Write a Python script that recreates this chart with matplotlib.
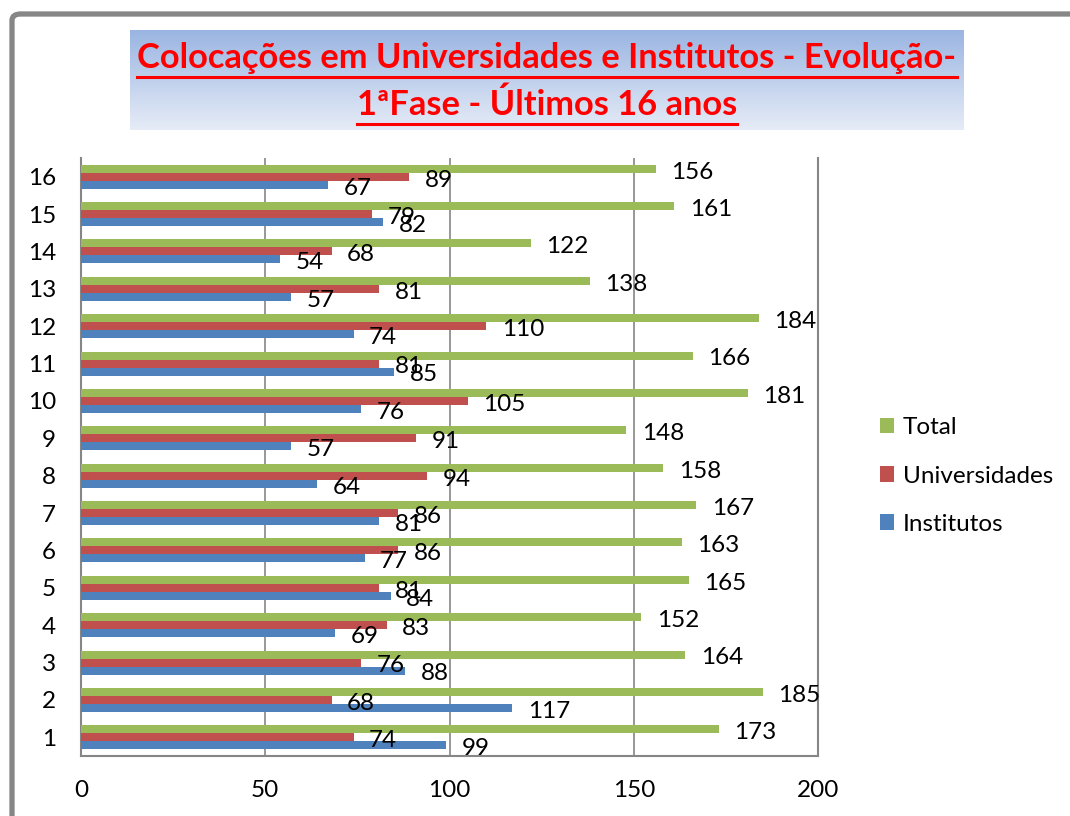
import matplotlib
matplotlib.use("Agg")
import matplotlib.pyplot as plt
import numpy as np
from matplotlib.patches import FancyBboxPatch
from matplotlib.lines import Line2D

categories = [str(i) for i in range(1, 17)]
institutos = [99, 117, 88, 69, 84, 77, 81, 64, 57, 76, 85, 74, 57, 54, 82, 67]
universidades = [74, 68, 76, 83, 81, 86, 86, 94, 91, 105, 81, 110, 81, 68, 79, 89]
total = [173, 185, 164, 152, 165, 163, 167, 158, 148, 181, 166, 184, 138, 122, 161, 156]
xticks = [0, 50, 100, 150, 200]
title_lines = ["Colocações em Universidades e Institutos - Evolução-", "1ªFase - Últimos 16 anos"]

W, H = 1070, 816
fig = plt.figure(figsize=(W / 100, H / 100), dpi=100)
FONT = "Lato"
plt.rcParams['font.family'] = [FONT, 'DejaVu Sans']

def fx(px):
    return px / W

def fy(py):
    return 1 - py / H

# outer frame (rounded gray border, cut off at right/bottom)
frame = FancyBboxPatch((fx(12), fy(900)), fx(1200), (900 - 14) / H,
                       boxstyle="round,pad=0,rounding_size=0.008",
                       transform=fig.transFigure, facecolor="none",
                       edgecolor="#868686", linewidth=3.8, zorder=10)
fig.patches.append(frame)

# title gradient box
tax = fig.add_axes([fx(130), fy(130), fx(964 - 130), (130 - 30) / H])
grad = np.linspace(0, 1, 256).reshape(-1, 1)
c_top = np.array([0x9A, 0xB5, 0xE2]) / 255
c_bot = np.array([0xE6, 0xEC, 0xF7]) / 255
img = c_top[None, None, :] * (1 - grad[:, :, None]) + c_bot[None, None, :] * grad[:, :, None]
tax.imshow(img, aspect="auto", extent=[0, 1, 0, 1])
tax.set_axis_off()

# main axes
ax = fig.add_axes([fx(81), fy(756), fx(818 - 81), (756 - 158) / H])
y = np.arange(1, 17)
h = 0.215
c_blue, c_red, c_green = "#4F81BD", "#C0504D", "#9BBB59"
ax.barh(y - h, institutos, height=h, color=c_blue, label="Institutos", zorder=3)
ax.barh(y, universidades, height=h, color=c_red, label="Universidades", zorder=3)
ax.barh(y + h, total, height=h, color=c_green, label="Total", zorder=3)

lab_fs = 17.5
off = 4.2
for vals, dy in ((institutos, -h), (universidades, 0), (total, h)):
    for yi, v in zip(y, vals):
        ax.text(v + off, yi + dy - 0.09, str(v), va="center", ha="left",
                fontsize=lab_fs, color="black", zorder=5)

ax.set_xlim(0, 200)
ax.set_ylim(0.5, 16.5)
ax.set_xticks(xticks)
ax.set_xticklabels([str(t) for t in xticks])
ax.set_yticks(y)
ax.set_yticklabels(categories)
ax.tick_params(axis="x", length=0, pad=17, labelsize=lab_fs)
ax.tick_params(axis="y", length=0, pad=18, labelsize=lab_fs)
ax.grid(axis="x", color="#868686", linewidth=1.2, zorder=0)
ax.spines["top"].set_visible(False)
for s in ("left", "bottom", "right"):
    ax.spines[s].set_color("#868686")
    ax.spines[s].set_linewidth(1.5)
ax.set_facecolor("none")

handles, labels = ax.get_legend_handles_labels()
leg = fig.legend(handles[::-1], labels[::-1], loc="center left",
                 bbox_to_anchor=(fx(858), fy(476)), frameon=False,
                 fontsize=lab_fs, handlelength=0.6, handleheight=0.6,
                 handletextpad=0.35, labelspacing=1.12)

# title with underline
fig.canvas.draw()
renderer = fig.canvas.get_renderer()
title_fs = 20
t1 = fig.text(fx(547), fy(58), title_lines[0], ha="center", va="center",
              fontsize=title_fs, fontweight="bold", color="#FF0000")
bb = t1.get_window_extent(renderer)
title_fs = title_fs * 818 / bb.width
t1.set_fontsize(title_fs)
t2 = fig.text(fx(547), fy(105), title_lines[1], ha="center", va="center",
              fontsize=title_fs, fontweight="bold", color="#FF0000")
for t, uy in ((t1, 77), (t2, 124)):
    b = t.get_window_extent(renderer)
    fig.add_artist(Line2D([b.x0 / W, b.x1 / W], [fy(uy), fy(uy)],
                          transform=fig.transFigure, color="#FF0000", linewidth=2.2))

fig.savefig("out.png", dpi=100)
